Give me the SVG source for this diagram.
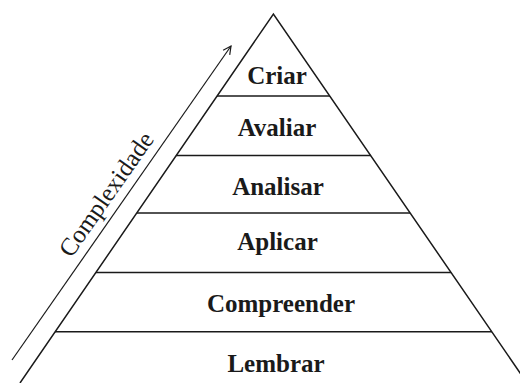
<svg xmlns="http://www.w3.org/2000/svg" width="520" height="383" viewBox="0 0 520 383">
  <style>
    .edge { fill: none; stroke: #1a1a1a; stroke-width: 1.5; }
    .div { stroke: #1a1a1a; stroke-width: 1.5; }
    .lbl { font-family: "Liberation Serif", "Times New Roman", serif; font-weight: bold; font-size: 25px; fill: #1a1a1a; text-anchor: middle; }
    .axis { font-family: "Liberation Serif", "Times New Roman", serif; font-size: 25px; fill: #1a1a1a; text-anchor: middle; }
  </style>
  <defs>
    <marker id="arrow" viewBox="0 0 10 10" refX="9" refY="5" markerWidth="10" markerHeight="10" markerUnits="userSpaceOnUse" orient="auto">
      <path d="M1,1 L9,5 L1,9" fill="none" stroke="#1a1a1a" stroke-width="1.2"/>
    </marker>
  </defs>
  <rect width="520" height="383" fill="#ffffff"/>
  <g id="pyramid">
    <path class="edge" d="M20,383 L273.4,14 L527,383"/>
  </g>
  <g id="criar">
    <line class="div" x1="217" y1="96" x2="330" y2="96"/>
    <text class="lbl" x="277" y="84">Criar</text>
  </g>
  <g id="avaliar">
    <line class="div" x1="176" y1="155.5" x2="371" y2="155.5"/>
    <text class="lbl" x="277" y="136">Avaliar</text>
  </g>
  <g id="analisar">
    <line class="div" x1="137" y1="213" x2="410" y2="213"/>
    <text class="lbl" x="278" y="195">Analisar</text>
  </g>
  <g id="aplicar">
    <line class="div" x1="96" y1="272.5" x2="451" y2="272.5"/>
    <text class="lbl" x="277.5" y="250">Aplicar</text>
  </g>
  <g id="compreender">
    <line class="div" x1="55" y1="331.7" x2="492" y2="331.7"/>
    <text class="lbl" x="281" y="312">Compreender</text>
  </g>
  <g id="lembrar">
    <text class="lbl" x="276" y="372">Lembrar</text>
  </g>
  <g id="connectors">
    <line x1="12" y1="360" x2="231" y2="46" stroke="#1a1a1a" stroke-width="1.2" marker-end="url(#arrow)"/>
  </g>
  <g id="complexidade">
    <text class="axis" transform="translate(113,199) rotate(-55)">Complexidade</text>
  </g>
</svg>
